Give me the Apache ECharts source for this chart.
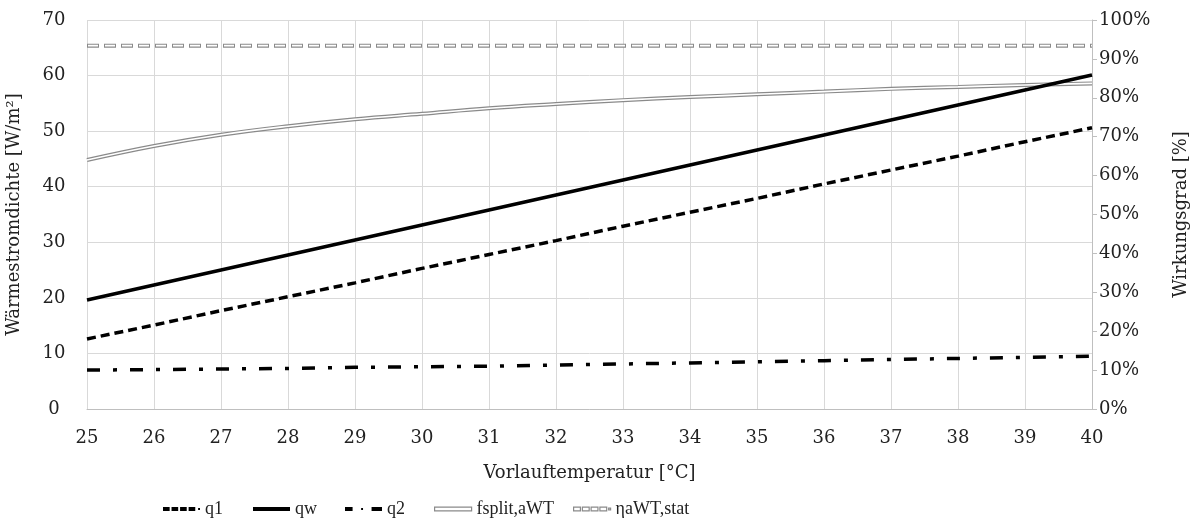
<!DOCTYPE html>
<html><head><meta charset="utf-8">
<script src="https://cdn.jsdelivr.net/npm/echarts@6/dist/echarts.min.js"></script>
<style>html,body{margin:0;padding:0;background:#fff}#c{width:1193px;height:519px}</style>
</head><body><div id="c"></div>
<script>
const temps = [25,26,27,28,29,30,31,32,33,34,35,36,37,38,39,40];
const q1 = [12.6,15.1,17.7,20.2,22.7,25.3,27.8,30.3,32.9,35.4,37.9,40.5,43.0,45.5,48.1,50.6];
const qw = [19.6,22.3,25.0,27.7,30.4,33.1,35.8,38.5,41.2,43.9,46.6,49.3,52.0,54.7,57.4,60.1];
const q2 = [7.0,7.1,7.2,7.3,7.5,7.6,7.7,7.9,8.1,8.3,8.5,8.7,8.9,9.1,9.3,9.5];
const fsplit = [0.640,0.676,0.705,0.727,0.745,0.759,0.773,0.784,0.794,0.802,0.809,0.816,0.823,0.828,0.833,0.837];
const eta = [0.934,0.934,0.934,0.934,0.934,0.934,0.934,0.934,0.934,0.934,0.934,0.934,0.934,0.934,0.934,0.934];
const names = ['q1','qw','q2','fsplit,aWT','ηaWT,stat'];

const pair = a => temps.map((t,i)=>[t,a[i]]);
const F = '"DejaVu Serif", "Liberation Serif", serif';
const FL = '"Liberation Serif", serif';
const txt = '#222';
const FS = 18;
const icons = {
  q1: 'path://M0,0 L7,0 L7,4 L0,4 Z M9,0 L16,0 L16,4 L9,4 Z M18,0 L25,0 L25,4 L18,4 Z M27,0 L34,0 L34,4 L27,4 Z M37,1 L39,1 L39,3 L37,3 Z',
  qw: 'path://M0,0 L39,0 L39,4 L0,4 Z',
  q2: 'path://M0,0 L8,0 L8,4 L0,4 Z M17,1 L19,1 L19,3 L17,3 Z M28,0 L39,0 L39,4 L28,4 Z',
  fs: 'path://M0,0 L39,0 L39,4 L0,4 Z',
  eta: 'path://M0,0 L7,0 L7,4 L0,4 Z M9,0 L16,0 L16,4 L9,4 Z M18,0 L25,0 L25,4 L18,4 Z M27,0 L34,0 L34,4 L27,4 Z M36,1 L38,1 L38,3 L36,3 Z'
};
const lg = (left, item) => ({left:left, bottom:1, itemWidth:37, itemHeight:5, itemGap:0, padding:0,
  textStyle:{fontFamily:FL,fontSize:18,color:txt}, data:[item]});
const chart = echarts.init(document.getElementById('c'));
chart.setOption({
  animation:false,
  textStyle:{fontFamily:F},
  grid:{left:87,right:101,top:20,bottom:110,containLabel:false,outerBoundsMode:'none'},
  xAxis:{type:'value',min:25,max:40,interval:1,
    name:'Vorlauftemperatur [°C]',nameLocation:'middle',nameGap:55,
    nameTextStyle:{fontFamily:F,fontSize:FS,color:txt},
    axisLine:{show:true,lineStyle:{color:'#bfbfbf',width:1}},
    axisTick:{show:false},
    axisLabel:{fontFamily:F,fontSize:FS,color:txt,margin:20},
    splitLine:{show:true,lineStyle:{color:'#d9d9d9',width:1}}},
  yAxis:[
    {type:'value',min:0,max:70,interval:10,position:'left',
     name:'Wärmestromdichte [W/m²]',nameLocation:'middle',nameGap:64,nameRotate:90,
     nameTextStyle:{fontFamily:F,fontSize:FS,color:txt},
     axisLine:{show:false},axisTick:{show:false},
     axisLabel:{fontFamily:F,fontSize:FS,color:txt,margin:33,align:'center'},
     splitLine:{show:true,lineStyle:{color:'#d9d9d9',width:1}}},
    {type:'value',min:0,max:1,interval:0.1,position:'right',
     name:'Wirkungsgrad [%]',nameLocation:'middle',nameGap:80,nameRotate:90,
     nameTextStyle:{fontFamily:F,fontSize:FS,color:txt},
     axisLine:{show:true,lineStyle:{color:'#bfbfbf',width:1}},
     axisTick:{show:true,length:5,lineStyle:{color:'#bfbfbf'}},
     axisLabel:{fontFamily:F,fontSize:FS,color:txt,margin:7,formatter:v=>Math.round(v*100)+'%'},
     splitLine:{show:false}}
  ],
  legend:[
    lg(163,{name:names[0],icon:icons.q1,itemStyle:{color:'#000',borderWidth:0}}),
    lg(253,{name:names[1],icon:icons.qw,itemStyle:{color:'#000',borderWidth:0}}),
    lg(345,{name:names[2],icon:icons.q2,itemStyle:{color:'#000',borderWidth:0}}),
    lg(434,{name:names[3],icon:icons.fs,itemStyle:{color:'#fff',borderColor:'#8a8a8a',borderWidth:1.2}}),
    lg(573,{name:names[4],icon:icons.eta,itemStyle:{color:'#fff',borderColor:'#8a8a8a',borderWidth:1.2}})
  ],
  series:[
    {name:names[3],type:'line',yAxisIndex:1,data:pair(fsplit),symbol:'none',smooth:0.4,
     lineStyle:{color:'#8a8a8a',width:4},itemStyle:{color:'#8a8a8a'},z:2},
    {name:'_f',type:'line',yAxisIndex:1,data:pair(fsplit),symbol:'none',smooth:0.4,
     lineStyle:{color:'#ffffff',width:1.6},z:3,silent:true},
    {name:names[4],type:'line',yAxisIndex:1,data:pair(eta),symbol:'none',
     lineStyle:{color:'#8a8a8a',width:4,type:[12,5]},itemStyle:{color:'#8a8a8a'},z:2},
    {name:'_e',type:'line',yAxisIndex:1,data:pair(eta),symbol:'none',
     lineStyle:{color:'#ffffff',width:1.6,type:[10,7],dashOffset:-1},z:3,silent:true},
    {name:names[0],type:'line',data:pair(q1),symbol:'none',
     lineStyle:{color:'#000',width:3.5,type:[9,5]},itemStyle:{color:'#000'},z:5},
    {name:names[1],type:'line',data:pair(qw),symbol:'none',
     lineStyle:{color:'#000',width:3.5},itemStyle:{color:'#000'},z:5},
    {name:names[2],type:'line',data:pair(q2),symbol:'none',
     lineStyle:{color:'#000',width:3.5,type:[13,13,4,13]},itemStyle:{color:'#000'},z:5}
  ]
});
</script></body></html>
